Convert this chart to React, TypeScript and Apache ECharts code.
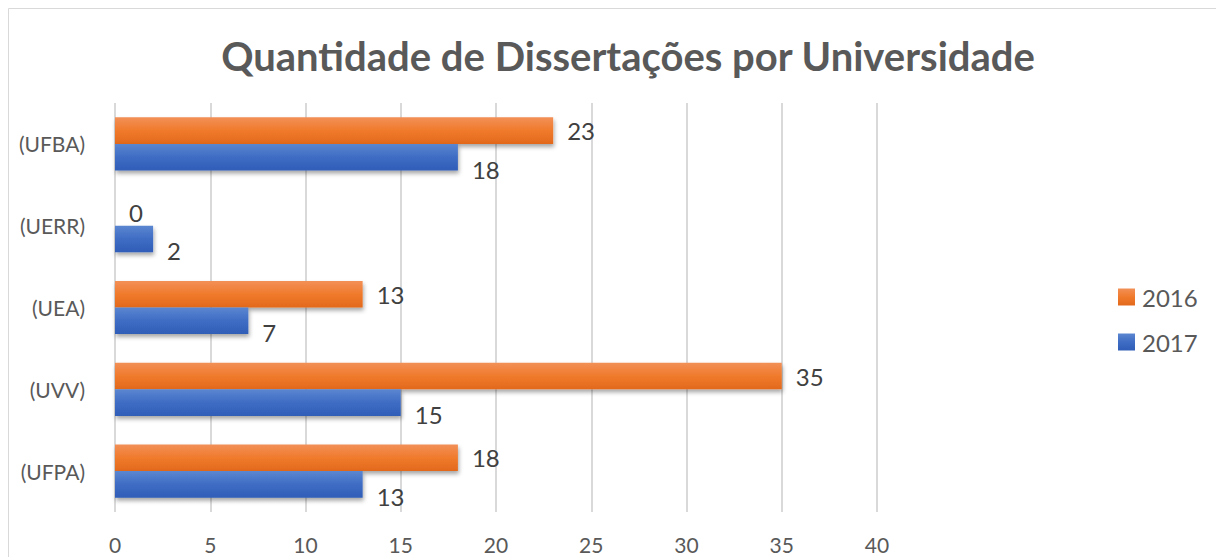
import React, { useEffect, useRef } from "react";
import * as echarts from "echarts";

const categories = ["(UFPA)", "(UVV)", "(UEA)", "(UERR)", "(UFBA)"];
const values2016 = [18, 35, 13, 0, 23];
const values2017 = [13, 15, 7, 2, 18];
const xTicks = { min: 0, max: 40, interval: 5 };
const titleText = "Quantidade de Dissertações por Universidade";

const FONT = "Lato, 'Open Sans', sans-serif";

export default function App() {
  const ref = useRef<HTMLDivElement>(null);
  useEffect(() => {
    if (!ref.current) return;
    const chart = echarts.init(ref.current, undefined, { renderer: "svg" });
    const orange = new echarts.graphic.LinearGradient(0, 0, 0, 1, [
      { offset: 0, color: "#F29057" },
      { offset: 0.5, color: "#F07A2C" },
      { offset: 1, color: "#E2691C" },
    ]);
    const blue = new echarts.graphic.LinearGradient(0, 0, 0, 1, [
      { offset: 0, color: "#5B86D0" },
      { offset: 0.5, color: "#3F6CC4" },
      { offset: 1, color: "#2F5DB7" },
    ]);
    const shadow = {
      shadowBlur: 4,
      shadowOffsetY: 3,
      shadowOffsetX: 1,
      shadowColor: "rgba(0,0,0,0.35)",
    };
    chart.setOption({
      animation: false,
      textStyle: { fontFamily: FONT },
      graphic: [
        {
          type: "rect",
          shape: { x: 0.5, y: 0.5, width: 1213, height: 700 },
          style: { fill: "none", stroke: "#d9d9d9", lineWidth: 1 },
          silent: true,
        },
        {
          type: "text",
          x: 620,
          y: 48,
          style: {
            text: titleText,
            fontFamily: FONT,
            fontWeight: "bold",
            fontSize: 40,
            fill: "#595959",
            textAlign: "center",
            textVerticalAlign: "middle",
          },
        },
      ],
      legend: {
        orient: "vertical",
        left: 1110,
        top: 277,
        padding: 0,
        itemWidth: 17,
        itemHeight: 17,
        itemGap: 21,
        icon: "rect",
        data: ["2016", "2017"],
        textStyle: { fontSize: 24, color: "#595959", fontFamily: FONT, padding: [0, 0, 0, 2] },
      },
      grid: { left: 107, right: 347, top: 95, bottom: 45, containLabel: false },
      xAxis: {
        type: "value",
        min: xTicks.min,
        max: xTicks.max,
        interval: xTicks.interval,
        axisLine: { show: false },
        axisTick: { show: false },
        splitLine: { show: true, lineStyle: { color: "#d9d9d9", width: 2 } },
        axisLabel: { fontSize: 21, color: "#595959", margin: 22, fontFamily: FONT },
      },
      yAxis: {
        type: "category",
        data: categories,
        axisLine: { show: false },
        axisTick: { show: false },
        axisLabel: { fontSize: 21, color: "#595959", margin: 30, fontFamily: FONT },
      },
      series: [
        {
          name: "2016",
          type: "bar",
          data: values2016,
          barGap: "0%",
          barCategoryGap: "35%",
          itemStyle: { color: orange, ...shadow },
          label: {
            show: true,
            position: "right",
            distance: 14,
            offset: [0, 0],
            fontSize: 24,
            color: "#404040",
            fontFamily: FONT,
          },
        },
        {
          name: "2017",
          type: "bar",
          data: values2017,
          barGap: "0%",
          barCategoryGap: "35%",
          itemStyle: { color: blue, ...shadow },
          label: {
            show: true,
            position: "right",
            distance: 14,
            offset: [0, 12],
            fontSize: 24,
            color: "#404040",
            fontFamily: FONT,
          },
        },
      ],
    });
    return () => chart.dispose();
  }, []);
  return <div ref={ref} style={{ width: 1216, height: 549 }} />;
}
